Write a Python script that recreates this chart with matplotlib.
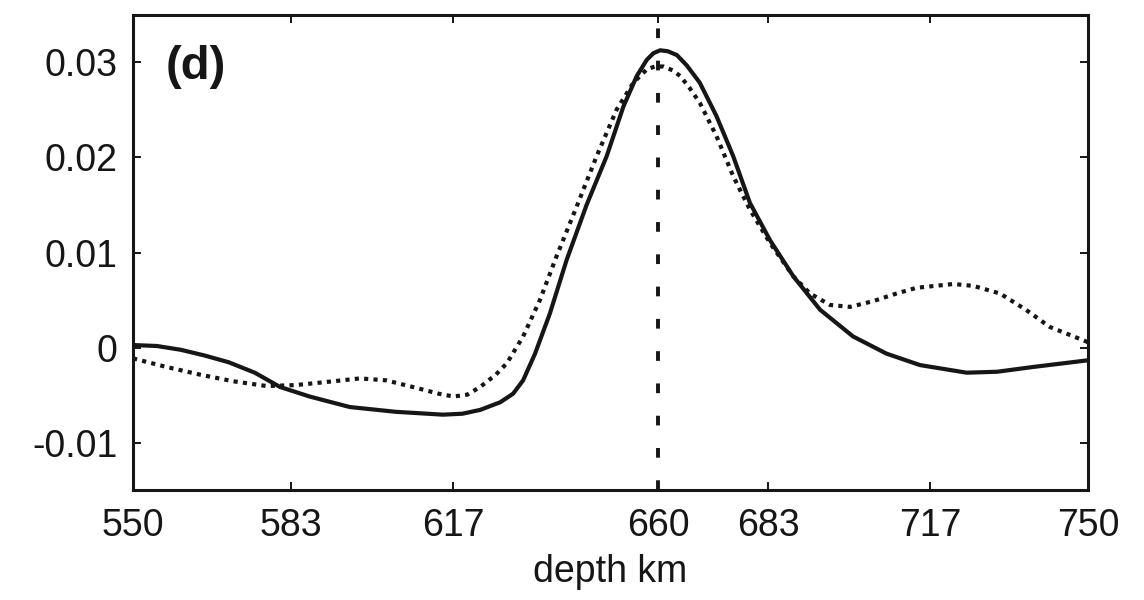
import matplotlib
matplotlib.use("Agg")
import matplotlib.pyplot as plt

# ---- data ----
depth_solid = [550, 555, 560, 565, 570, 575.5, 580.8, 587, 595.4, 605, 614.9, 619,
               622.7, 626.9, 629.6, 631.7, 634.2, 637.3, 640.8, 645.0, 649.2, 652.7,
               655.5, 657.6, 659.0, 660.4, 662.0, 663.9, 666.0, 668.7, 672.2, 675.7,
               679.2, 683.4, 688.3, 693.9, 700.8, 707.8, 714.8, 724.6, 731, 738.5, 750]
val_solid = [0.0003, 0.0002, -0.0002, -0.0008, -0.0015, -0.0026, -0.0041, -0.0051,
             -0.0062, -0.0067, -0.0070, -0.0069, -0.0065, -0.0057, -0.0048, -0.0034,
             -0.0006, 0.0036, 0.0092, 0.0150, 0.0201, 0.0253, 0.0285, 0.0302, 0.0309,
             0.0312, 0.0311, 0.0307, 0.0296, 0.0278, 0.0243, 0.0201, 0.0152, 0.0113,
             0.0075, 0.0040, 0.0012, -0.0006, -0.0018, -0.0026, -0.0025, -0.0020,
             -0.0013]

depth_dotted = [550, 557, 564, 571, 578, 584, 590, 597.5, 603, 609.4, 614, 617.1, 620,
                622.7, 626, 628.3, 631.7, 635.2, 638.7, 642.9, 647.1, 651.3, 654.8,
                657.6, 659.3, 661.1, 663.0, 664.6, 666.5, 668.7, 672.2, 675.7, 679.2,
                683.4, 688.3, 691.8, 696.0, 700.2, 705.0, 709.9, 714.1, 721.8, 726,
                731.6, 737, 742, 746, 750]
val_dotted = [-0.0011, -0.0020, -0.0028, -0.0035, -0.0040, -0.0039, -0.0036, -0.0032,
              -0.0034, -0.0042, -0.0048, -0.0051, -0.0049, -0.0041, -0.0028, -0.0016,
              0.0012, 0.0050, 0.0096, 0.0148, 0.0201, 0.0250, 0.0278, 0.0292, 0.0295,
              0.0295, 0.0291, 0.0285, 0.0273, 0.0257, 0.0222, 0.0180, 0.0145, 0.0110,
              0.0075, 0.0057, 0.0045, 0.0043, 0.0049, 0.0057, 0.0063, 0.0067, 0.0065,
              0.0057, 0.0040, 0.0022, 0.0014, 0.0006]

marker_depth = 660
xticks = [550, 583, 617, 660, 683, 717, 750]
yticks = [-0.01, 0, 0.01, 0.02, 0.03]
ytick_labels = ["-0.01", "0", "0.01", "0.02", "0.03"]
panel_label = "(d)"
xlabel = "depth km"

# ---- figure ----
plt.rcParams['font.family'] = ['Liberation Sans', 'DejaVu Sans']
ink = '#161616'

fig = plt.figure(figsize=(11.44, 6.0), dpi=100)
ax = fig.add_axes([0.1163, 0.1833, 0.8347, 0.7917])

ax.plot(depth_solid, val_solid, color=ink, lw=3.0, solid_capstyle='round',
        solid_joinstyle='round', zorder=3)
ax.plot(depth_dotted, val_dotted, color=ink, lw=3.0, linestyle=(0, (1.0, 1.25)),
        dash_capstyle='butt', zorder=3)
ax.axvline(marker_depth, color=ink, lw=2.8, linestyle=(0, (2.5, 5.8)),
           dash_capstyle='butt', zorder=2)

ax.set_xlim(550, 750)
ax.set_ylim(-0.0149, 0.0349)
ax.set_xticks(xticks)
ax.set_xticklabels([str(t) for t in xticks])
ax.set_yticks(yticks)
ax.set_yticklabels(ytick_labels)

for s in ax.spines.values():
    s.set_linewidth(2.2)
    s.set_color(ink)

ax.tick_params(axis='both', direction='in', length=6, width=1.4, color=ink,
               labelsize=27, top=True, right=True, labelcolor=ink)
ax.tick_params(axis='x', pad=13)
ax.tick_params(axis='y', pad=11)

ax.set_xlabel(xlabel, fontsize=27, color=ink, labelpad=7)
ax.text(0.034, 0.89, panel_label, transform=ax.transAxes, fontsize=34,
        fontweight='bold', ha='left', va='center', color=ink)

fig.savefig("out.png", dpi=100)
